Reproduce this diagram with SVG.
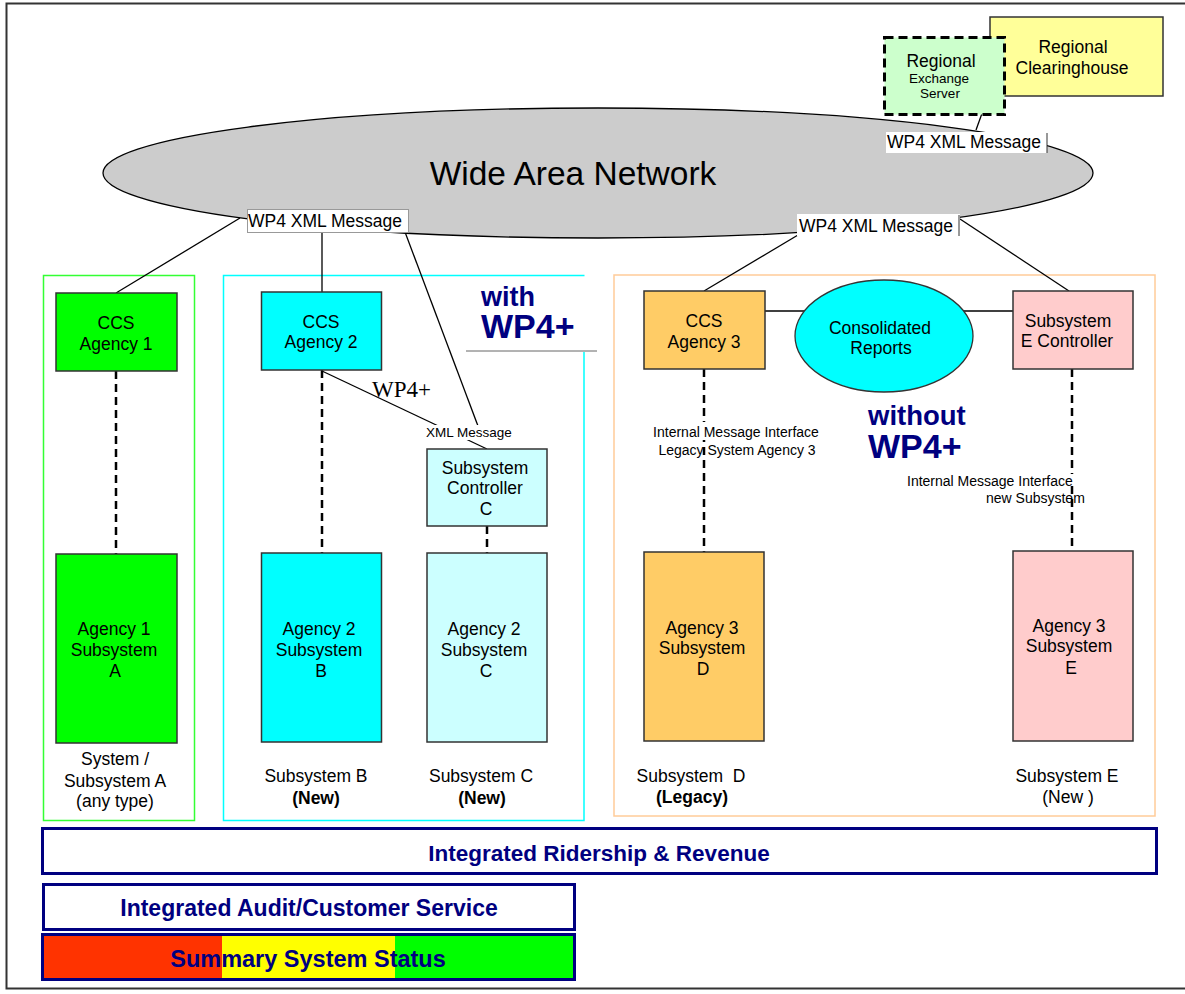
<svg xmlns="http://www.w3.org/2000/svg" width="1185" height="994" viewBox="0 0 1185 994">
<style>
text{font-family:"Liberation Sans",Arial,sans-serif;fill:#000}
.n{font-size:17.5px;text-anchor:middle}
.box{stroke:#333;stroke-width:1.5}
.lbl{font-size:17.5px}
.sm{font-size:14px}
.dash{stroke:#000;stroke-width:2.5;stroke-dasharray:8,5;fill:none}
.ln{stroke:#000;stroke-width:1.3;fill:none}
.big{font-weight:bold;fill:#000080}
.bar{fill:#fff;stroke:#000080;stroke-width:3}
</style>
<rect x="0" y="0" width="1185" height="994" fill="#fff"/>
<rect x="6.5" y="3.5" width="1182" height="985" fill="none" stroke="#333" stroke-width="2"/>

<g id="containers">
<rect x="43.5" y="275.5" width="151" height="545" fill="none" stroke="#33FF33" stroke-width="1.5"/>
<path d="M584,352 V820.5 H223.5 V275.5 H584.5" fill="none" stroke="#00FFFF" stroke-width="1.5"/>
<rect x="614" y="275" width="541" height="541" fill="none" stroke="#FFCC99" stroke-width="1.5"/>
</g>

<g id="wan">
<ellipse cx="598" cy="173" rx="495" ry="65" fill="#CCCCCC" stroke="#000" stroke-width="1.3"/>
<text x="573" y="185" style="font-size:33.5px;text-anchor:middle">Wide Area Network</text>
</g>

<g id="connectors">
<line class="ln" x1="976" y1="130" x2="989" y2="94"/>
<line class="ln" x1="116" y1="293" x2="240" y2="218"/>
<line class="ln" x1="322" y1="232" x2="322" y2="292"/>
<line class="ln" x1="405" y1="232" x2="478" y2="426"/>
<line class="ln" x1="322" y1="371" x2="487" y2="449"/>
<line class="ln" x1="704" y1="291" x2="798" y2="235"/>
<line class="ln" x1="960" y1="219" x2="1069" y2="291"/>
<line class="ln" x1="765" y1="311" x2="1013" y2="311"/>
<line class="dash" x1="116" y1="371" x2="116" y2="554"/>
<line class="dash" x1="322" y1="370" x2="322" y2="553"/>
<line class="dash" x1="487" y1="526" x2="487" y2="553"/>
<line class="dash" x1="704" y1="369" x2="704" y2="552"/>
<line class="dash" x1="1072" y1="369" x2="1072" y2="551"/>
<rect x="650" y="422" width="172" height="18" fill="#fff"/>
<rect x="903" y="474" width="172" height="12" fill="#fff"/>
<text class="sm" x="736" y="437" text-anchor="middle">Internal Message Interface</text>
<text class="sm" x="737" y="455" text-anchor="middle">Legacy System Agency 3</text>
<text class="sm" x="907" y="486">Internal Message Interface</text>
<text class="sm" x="986" y="503">new Subsystem</text>
<rect x="425" y="425" width="92" height="15" fill="#fff"/>
<text x="426" y="437" style="font-size:13.5px">XML Message</text>
<text x="372" y="397" style="font-family:'Liberation Serif','Times New Roman',serif;font-size:23px">WP4+</text>
<rect x="886" y="132" width="161" height="21" fill="#fff"/>
<line x1="1047" y1="133" x2="1047" y2="153" stroke="#333" stroke-width="1"/>
<text class="lbl" x="887" y="148">WP4 XML Message</text>
<rect x="247.5" y="209.5" width="161" height="23" fill="#fff" stroke="#999" stroke-width="1"/>
<text class="lbl" x="248" y="227">WP4 XML Message</text>
<rect x="797" y="214" width="163" height="22" fill="#fff"/>
<line x1="959" y1="215" x2="959" y2="236" stroke="#333" stroke-width="1"/>
<text class="lbl" x="799" y="232">WP4 XML Message</text>
</g>

<g id="regional-clearinghouse">
<rect class="box" x="990" y="17" width="173" height="79" fill="#FFFF99"/>
<text class="n" x="1073" y="53">Regional</text>
<text class="n" x="1072" y="74">Clearinghouse</text>
</g>

<g id="regional-exchange-server">
<rect x="884.5" y="37.5" width="120" height="77" fill="#CCFFCC" stroke="#000" stroke-width="3" stroke-dasharray="9,5"/>
<text class="n" x="941" y="67">Regional</text>
<text x="939" y="83" style="font-size:13.5px;text-anchor:middle">Exchange</text>
<text x="940" y="98" style="font-size:13.5px;text-anchor:middle">Server</text>
</g>

<g id="with-wp4">
<rect x="467" y="277" width="130" height="74" fill="#fff"/>
<line x1="466" y1="351" x2="597" y2="351" stroke="#666" stroke-width="1"/>
<text class="big" x="481" y="306" style="font-size:27px">with</text>
<text class="big" x="481" y="338" style="font-size:34px">WP4+</text>
</g>

<g id="without-wp4">
<text class="big" x="868" y="425" style="font-size:27.5px">without</text>
<text class="big" x="868" y="458" style="font-size:34px">WP4+</text>
</g>

<g id="ccs-agency-1">
<rect class="box" x="56" y="293" width="121" height="78" fill="#00FF00"/>
<text class="n" x="116" y="329">CCS</text>
<text class="n" x="116" y="350">Agency 1</text>
</g>
<g id="agency1-subsystem-a">
<rect class="box" x="56" y="554" width="121" height="189" fill="#00FF00"/>
<text class="n" x="114" y="635">Agency 1</text>
<text class="n" x="114" y="656">Subsystem</text>
<text class="n" x="115" y="677">A</text>
</g>
<g id="label-a">
<text class="n" x="115" y="765">System /</text>
<text class="n" x="115" y="787">Subsystem A</text>
<text class="n" x="115" y="807">(any type)</text>
</g>

<g id="ccs-agency-2">
<rect class="box" x="261.5" y="292" width="120" height="78" fill="#00FFFF"/>
<text class="n" x="321" y="328">CCS</text>
<text class="n" x="321" y="348">Agency 2</text>
</g>
<g id="agency2-subsystem-b">
<rect class="box" x="261.5" y="553" width="120" height="189" fill="#00FFFF"/>
<text class="n" x="319" y="635">Agency 2</text>
<text class="n" x="319" y="656">Subsystem</text>
<text class="n" x="321" y="677">B</text>
</g>
<g id="label-b">
<text class="n" x="316" y="782">Subsystem B</text>
<text class="n" x="316" y="804" font-weight="bold">(New)</text>
</g>

<g id="subsystem-controller-c">
<rect class="box" x="427" y="449" width="120" height="77" fill="#CCFFFF"/>
<text class="n" x="485" y="474">Subsystem</text>
<text class="n" x="485" y="494">Controller</text>
<text class="n" x="486" y="515">C</text>
</g>
<g id="agency2-subsystem-c">
<rect class="box" x="427" y="553" width="120" height="189" fill="#CCFFFF"/>
<text class="n" x="484" y="635">Agency 2</text>
<text class="n" x="484" y="656">Subsystem</text>
<text class="n" x="486" y="677">C</text>
</g>
<g id="label-c">
<text class="n" x="481" y="782">Subsystem C</text>
<text class="n" x="482" y="804" font-weight="bold">(New)</text>
</g>

<g id="ccs-agency-3">
<rect class="box" x="644" y="291" width="121" height="78" fill="#FFCC66"/>
<text class="n" x="704" y="327">CCS</text>
<text class="n" x="704" y="348">Agency 3</text>
</g>
<g id="consolidated-reports">
<ellipse cx="884" cy="336" rx="89" ry="56" fill="#00FFFF" stroke="#333" stroke-width="1.3"/>
<text class="n" x="880" y="334">Consolidated</text>
<text class="n" x="881" y="354">Reports</text>
</g>
<g id="subsystem-e-controller">
<rect class="box" x="1013" y="291" width="120" height="78" fill="#FFCCCC"/>
<text class="n" x="1068" y="327">Subsystem</text>
<text class="n" x="1067" y="347">E Controller</text>
</g>
<g id="agency3-subsystem-d">
<rect class="box" x="644" y="552" width="120" height="189" fill="#FFCC66"/>
<text class="n" x="702" y="634">Agency 3</text>
<text class="n" x="702" y="654">Subsystem</text>
<text class="n" x="703" y="675">D</text>
</g>
<g id="label-d">
<text class="n" x="691" y="782" style="white-space:pre">Subsystem  D</text>
<text class="n" x="692" y="803" font-weight="bold">(Legacy)</text>
</g>
<g id="agency3-subsystem-e">
<rect class="box" x="1013" y="551" width="120" height="190" fill="#FFCCCC"/>
<text class="n" x="1069" y="632">Agency 3</text>
<text class="n" x="1069" y="652">Subsystem</text>
<text class="n" x="1071" y="674">E</text>
</g>
<g id="label-e">
<text class="n" x="1067" y="782">Subsystem E</text>
<text class="n" x="1068" y="803" style="white-space:pre">(New )</text>
</g>

<g id="integrated-ridership">
<rect class="bar" x="42.5" y="828.5" width="1114" height="45"/>
<text class="big" x="599" y="861" style="font-size:22.5px;text-anchor:middle">Integrated Ridership &amp; Revenue</text>
</g>
<g id="integrated-audit">
<rect class="bar" x="43.5" y="884.5" width="531" height="45"/>
<text class="big" x="309" y="916" style="font-size:23px;text-anchor:middle">Integrated Audit/Customer Service</text>
</g>
<g id="summary-status">
<rect x="42" y="934" width="180" height="45" fill="#FF3300"/>
<rect x="222" y="934" width="173" height="45" fill="#FFFF00"/>
<rect x="395" y="934" width="180" height="45" fill="#00FF00"/>
<rect x="42.5" y="934.5" width="532" height="45" fill="none" stroke="#000080" stroke-width="3"/>
<text class="big" x="308" y="967" style="font-size:23.5px;text-anchor:middle">Summary System Status</text>
</g>
</svg>
